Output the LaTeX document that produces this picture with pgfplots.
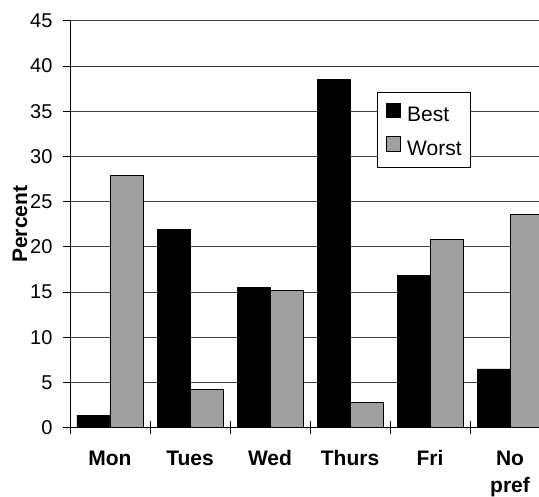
\documentclass[border=0pt]{standalone}
\usepackage{fontspec}
\setmainfont{Liberation Sans}
\usepackage{pgfplots}
\pgfplotsset{compat=1.18}
\definecolor{worstgray}{RGB}{160,160,160}
\begin{document}
\begin{tikzpicture}
\useasboundingbox (-70bp,-69.3bp) rectangle (469bp,427.7bp);
\begin{axis}[
  at={(0,0)}, anchor=south west,
  scale only axis, width=469bp, height=407bp,
  ybar=0pt, bar width=33bp,
  xmin=-0.5, xmax=5.3625, ymin=0, ymax=45,
  axis x line*=bottom, axis y line*=left,
  axis line style={black, line width=0.8bp, -},
  ytick={0,5,...,45},
  xtick={0,...,5},
  xticklabels={\strut Mon,\strut Tues,\strut Wed,\strut Thurs,\strut Fri,{\strut No\\\strut pref}},
  minor xtick={-0.5,0.5,...,4.5},
  ymajorgrids, major grid style={black!75, line width=0.8bp},
  tick align=outside,
  major tick length=7bp,
  minor tick length=13bp,
  tick style={black, line width=0.8bp},
  major x tick style={draw=none},
  minor x tick style={yshift=6.5bp},
  /pgf/number format/assume math mode=true,
  yticklabel style={font=\fontsize{20bp}{24bp}\selectfont, anchor=east, xshift=-7bp},
  xticklabel style={font=\fontsize{21bp}{26.7bp}\selectfont\bfseries, align=center, anchor=north, inner sep=0pt, yshift=-12bp},
  ylabel={Percent},
  ylabel style={font=\fontsize{21bp}{25bp}\selectfont\bfseries, at={(axis description cs:-0.1066,0.5)}, anchor=center},
  legend cell align=left,
  legend style={at={(rel axis cs:0.6546,0.8256)}, anchor=north west, draw=black, line width=0.8bp,
    font=\fontsize{21bp}{25bp}\selectfont, inner xsep=8.5bp, inner ysep=10.5bp,
    row sep=12.6bp, nodes={inner sep=0pt},
    /tikz/every odd column/.append style={column sep=6.5bp}},
]
\addplot[fill=black, draw=black, line width=0.8bp,
  legend image code/.code={\draw[fill=black, draw=black, line width=0.8bp] (0bp,-2bp) rectangle (14bp,12.5bp);}]
  coordinates {(0,1.4) (1,21.9) (2,15.5) (3,38.5) (4,16.8) (5,6.5)};
\addplot[fill=worstgray, draw=black, line width=0.8bp,
  legend image code/.code={\draw[fill=worstgray, draw=black, line width=0.8bp] (0bp,-2bp) rectangle (14bp,12.5bp);}]
  coordinates {(0,27.9) (1,4.2) (2,15.2) (3,2.8) (4,20.8) (5,23.6)};
\legend{Best,Worst}
\end{axis}
\end{tikzpicture}
\end{document}
